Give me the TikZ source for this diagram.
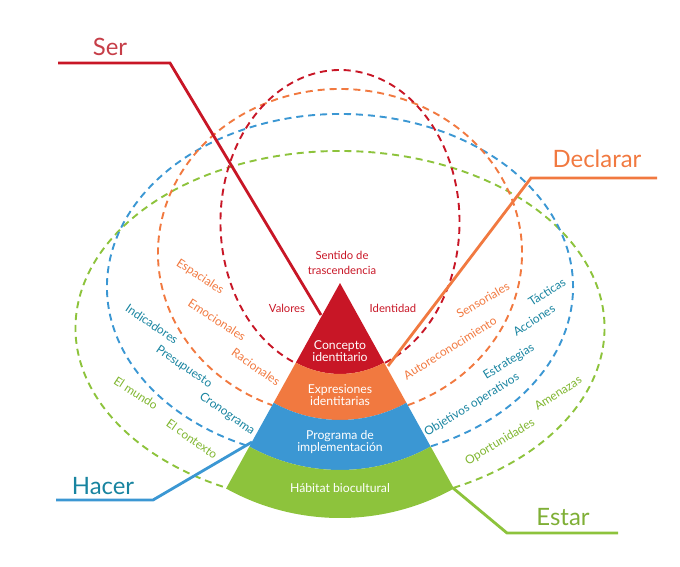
\documentclass[tikz,border=0pt]{standalone}
\usepackage{fontspec}
\setmainfont{Lato}
\definecolor{serRed}{RGB}{200,22,38}
\definecolor{serText}{RGB}{198,62,72}
\definecolor{declOrange}{RGB}{241,121,64}
\definecolor{hacerBlue}{RGB}{59,151,211}
\definecolor{estarGreen}{RGB}{141,195,60}
\definecolor{tealText}{RGB}{24,132,160}
\definecolor{greenText}{RGB}{128,182,48}
\begin{document}
\begin{tikzpicture}
[x=0.025cm, y=0.025cm,
  ringDecorate/.style={line width=1.35pt, dash pattern=on 5pt off 3.5pt},%
  leaderDecorate/.style={line width=2pt},
  bigLabel/.style={font=\fontsize{17}{20}\selectfont, inner sep=0pt},
  arcLabel/.style={font=\fontsize{8.5}{10}\selectfont, inner sep=0pt},
  topLabel/.style={font=\fontsize{8}{10.6}\selectfont, text=serRed, align=center, inner sep=0pt},
  layerLabel/.style={font=\fontsize{8.7}{8.5}\selectfont, text=white, align=center, inner sep=0pt}]
\useasboundingbox (0,0) rectangle (680,-567);
%% dashed rings
\foreach \col/\cy/\a/\b/\t in {
  estarGreen/328/264.5/177/64.6, hacerBlue/287/233/173/67,
  declOrange/253/182/164/68.1, serRed/222/119.5/152/67.9}
{
  \draw[ringDecorate, \col] ({340+\a*cos(\t)},{-\cy-\b*sin(\t)})
    arc[start angle=-\t, end angle=180+\t, x radius=\a, y radius=\b];
}
%% pyramid layers
\begin{scope}[shift={(340,-283)}]
\foreach \ri/\ro/\col in {
  0.1/91/serRed, 91/137/declOrange, 137/187/hacerBlue, 187/235/estarGreen}
{
  \fill[\col] (-119:\ri) arc[start angle=-119, end angle=-61, radius=\ri]
    -- (-61:\ro) arc[start angle=-61, end angle=-119, radius=\ro] -- cycle;
}
\end{scope}
\node[layerLabel] (concepto) at (340,-351) {Concepto\\identitario};
\node[layerLabel] (expresiones) at (340,-395) {Expresiones\\identitarias};
\node[layerLabel] (programa) at (340,-442) {Programa de\\implementación};
\node[layerLabel] (habitat) at (340,-488) {Hábitat biocultural};
%% labels at the top
\node[topLabel] (sentido) at (342,-263) {Sentido de\\trascendencia};
\node[topLabel] (valores) at (287,-308) {Valores};
\node[topLabel] (identidad) at (393,-308) {Identidad};
%% labels along the rings
\foreach \name/\x/\y/\ang/\txt/\col in {
  espaciales/200/277/-33/Espaciales/declOrange,
  emocionales/217/320/-33/Emocionales/declOrange,
  racionales/256/367/-35/Racionales/declOrange,
  indicadores/152/324/-34/Indicadores/tealText,
  presupuesto/184/367/-34.5/Presupuesto/tealText,
  cronograma/227/414/-35/Cronograma/tealText,
  mundo/136/393/-33/El mundo/greenText,
  contexto/192/439/-35/El contexto/greenText,
  sensoriales/483/300/30/Sensoriales/declOrange,
  autoreconocimiento/450/348/32/Autoreconocimiento/declOrange,
  tacticas/547/292/33/Tácticas/tealText,
  acciones/534/320/32.6/Acciones/tealText,
  estrategias/509/362/31.5/Estrategias/tealText,
  objetivos/472/405/31.7/Objetivos operativos/tealText,
  amenazas/558/393/32.7/Amenazas/greenText,
  oportunidades/500/442/31/Oportunidades/greenText}
{
  \node[arcLabel, text=\col, rotate=\ang] (\name) at (\x,-\y) {\txt};
}
%% leaders and their names
\coordinate (serStart) at (58,-63);
\coordinate (serBend) at (170,-63);
\coordinate (serEnd) at (321,-315);
\coordinate (declararStart) at (657,-178);
\coordinate (declararBend) at (531,-178);
\coordinate (declararEnd) at (388,-366);
\coordinate (hacerStart) at (56,-500);
\coordinate (hacerBend) at (153,-500);
\coordinate (hacerEnd) at (252,-442);
\coordinate (estarStart) at (618,-533);
\coordinate (estarBend) at (507,-533);
\coordinate (estarEnd) at (453,-488);
\foreach \name/\col in {ser/serRed, declarar/declOrange, hacer/hacerBlue, estar/estarGreen}
{
  \draw[leaderDecorate, \col] (\name Start) -- (\name Bend) -- (\name End);
}
\node[bigLabel, text=serText] (ser) at (110,-47) {Ser};
\node[bigLabel, text=declOrange] (declarar) at (597,-159) {Declarar};
\node[bigLabel, text=tealText] (hacer) at (103,-486) {Hacer};
\node[bigLabel, text=estarGreen!90!black] (estar) at (563,-517) {Estar};
\end{tikzpicture}
\end{document}
